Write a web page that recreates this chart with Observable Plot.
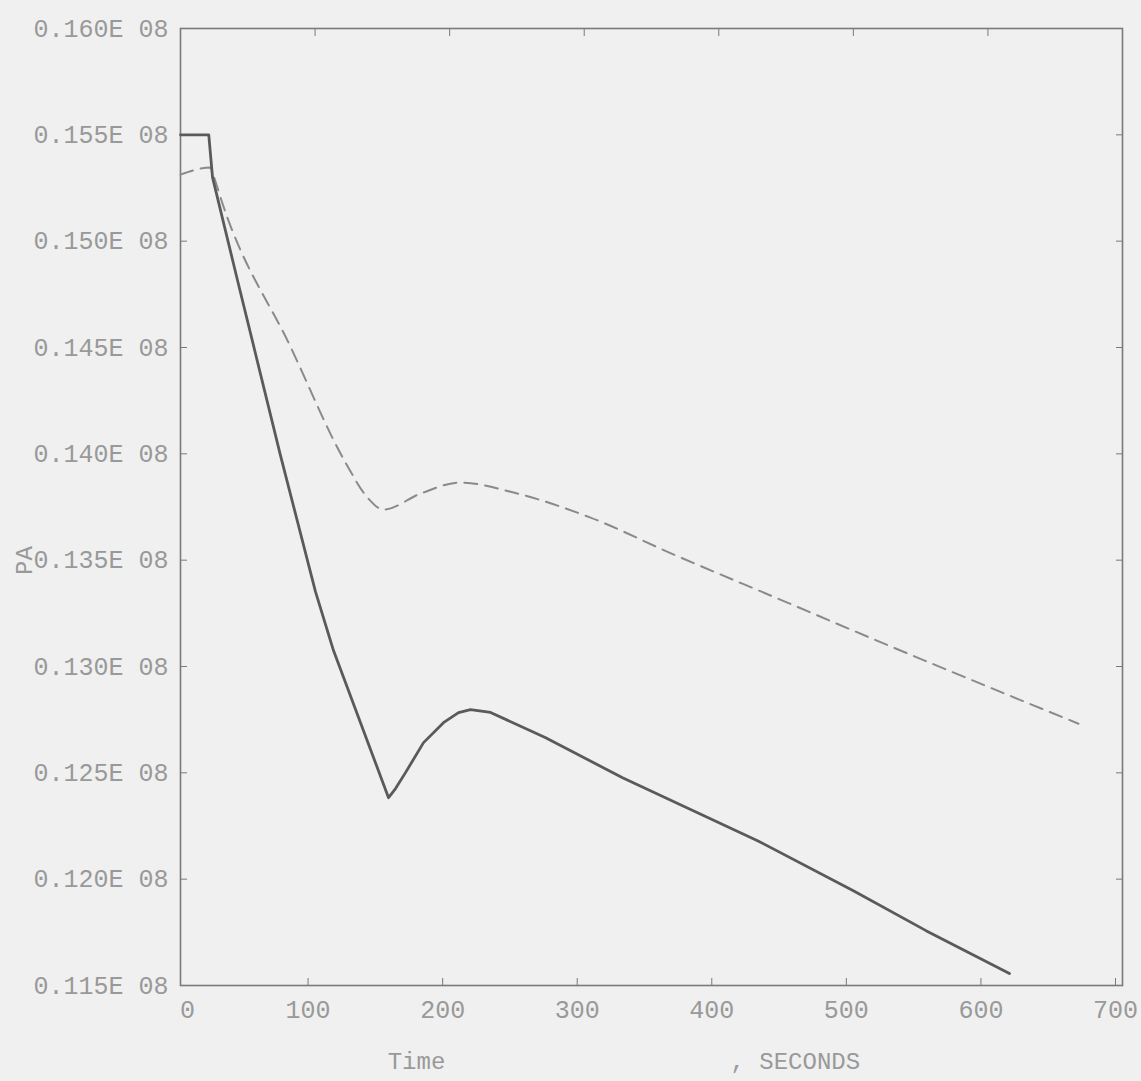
<!DOCTYPE html>
<html>
<head>
<meta charset="utf-8">
<script src="https://cdn.jsdelivr.net/npm/d3@7"></script>
<script src="https://cdn.jsdelivr.net/npm/@observablehq/plot@0.6"></script>
<style>
  html, body { margin: 0; padding: 0; background: #f0f0f0; }
  #chart svg { display: block; }
</style>
</head>
<body>
<div id="chart"></div>
<script>
// Tick values and labels
const xTicks = [0, 100, 200, 300, 400, 500, 600, 700];
const yTicks = [1.15e7, 1.20e7, 1.25e7, 1.30e7, 1.35e7, 1.40e7, 1.45e7, 1.50e7, 1.55e7, 1.60e7];
const yTickLabels = ["0.115E 08", "0.120E 08", "0.125E 08", "0.130E 08", "0.135E 08",
                     "0.140E 08", "0.145E 08", "0.150E 08", "0.155E 08", "0.160E 08"];

// Solid series (time in seconds, pressure in Pa)
const solidTime = [0, 21, 23.8, 42.4, 74, 100.3, 113.7, 154.6, 159.8, 167.2, 180.6, 195.4, 206.6, 215.5, 230.4,
                   271, 328.5, 428.8, 500, 554, 616];
const solidPressure = [1.550e7, 1.550e7, 1.530e7, 1.4815e7, 1.400e7, 1.3352e7, 1.3075e7, 1.2383e7, 1.2426e7,
                       1.2501e7, 1.2642e7, 1.2736e7, 1.2783e7, 1.2797e7, 1.2784e7, 1.2666e7, 1.2477e7,
                       1.2181e7, 1.1946e7, 1.1758e7, 1.1556e7];

// Dashed series
const dashedTime = [0, 22.3, 24.5, 31.2, 81.7, 122.6, 139, 150.9, 178.3, 208, 247.5, 304.7, 364.9, 447.4, 529.8, 612.3, 667.3];
const dashedPressure = [1.5313e7, 1.5346e7, 1.5309e7, 1.5177e7, 1.4504e7, 1.3959e7, 1.3794e7,
                        1.3738e7, 1.3813e7, 1.3865e7, 1.3818e7, 1.3700e7, 1.3531e7, 1.3310e7, 1.3089e7, 1.2873e7, 1.2731e7];

const xLabel = "Time";
const xUnitLabel = ", SECONDS";
const yLabel = "PA";

const solid = solidTime.map((t, i) => ({t, p: solidPressure[i]}));
const dashed = dashedTime.map((t, i) => ({t, p: dashedPressure[i]}));

const fmtY = d => yTickLabels[yTicks.indexOf(d)];
const ink = "#7a7a7a";
const textInk = "#999999";

const chart = Plot.plot({
  width: 1141,
  height: 1081,
  marginLeft: 180,
  marginRight: 19,
  marginTop: 28,
  marginBottom: 96,
  x: {domain: [0, 700]},
  y: {domain: [1.15e7, 1.60e7]},
  style: {background: "#f0f0f0", fontFamily: "'Liberation Mono', 'DejaVu Sans Mono', monospace", fontSize: "25px", color: textInk},
  marks: [
    Plot.axisX({anchor: "bottom", ticks: xTicks.slice(1), dx: -7, tickSize: -7, tickPadding: 22, label: null, fontSize: 25, stroke: ink}),
    Plot.axisX({anchor: "bottom", ticks: xTicks.slice(0, 1), dx: 7, tickSize: 0, tickPadding: 15, label: null, fontSize: 25}),
    Plot.axisX({anchor: "top", ticks: xTicks, tickSize: -7, tickFormat: () => "", label: null, stroke: ink}),
    Plot.axisY({anchor: "left", ticks: yTicks, tickSize: -7, tickPadding: 19, tickFormat: fmtY, label: null, fontSize: 25, stroke: ink}),
    Plot.axisY({anchor: "right", ticks: yTicks, tickSize: -7, tickFormat: () => "", label: null, stroke: ink}),
    Plot.frame({stroke: ink, strokeWidth: 1.6}),
    Plot.line(dashed, {x: "t", y: "p", stroke: "#8a8a8a", strokeWidth: 2, strokeDasharray: "13,8", curve: "monotone-x"}),
    Plot.line(solid, {x: "t", y: "p", stroke: "#5a5a5a", strokeWidth: 2.8, strokeLinejoin: "round", curve: "linear"}),
    Plot.text([xLabel], {text: d => d, frameAnchor: "bottom", dx: -235, dy: 83, fontSize: 24, fill: textInk}),
    Plot.text([xUnitLabel], {text: d => d, frameAnchor: "bottom", textAnchor: "start", dx: 79, dy: 83, fontSize: 24, fill: textInk}),
    Plot.text([yLabel], {text: d => d, frameAnchor: "left", rotate: -90, dx: -156, dy: 68, fontSize: 24, fill: textInk})
  ]
});
document.getElementById("chart").appendChild(chart);
</script>
</body>
</html>
